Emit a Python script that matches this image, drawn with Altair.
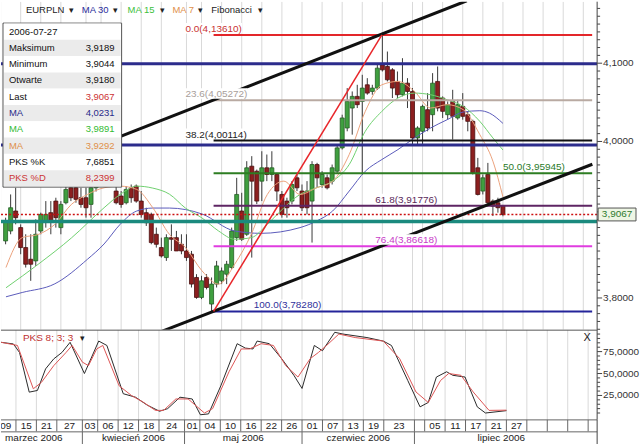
import altair as alt
import pandas as pd

FONT = "Liberation Sans, Arial, sans-serif"

W, H1, H2, H3 = 598, 329, 90, 25
X_DOMAIN = [1.0732, 117.76]
P_DOMAIN = [3.7595, 4.1786]
S_DOMAIN = [-2.27, 100.0]

# ---------------- candles (trading-day index, EURPLN) ----------------
bar_index = list(range(1, 101))
opens = [3.8729, 3.8856, 3.9111, 3.8899, 3.8644, 3.8495, 3.8474, 3.8856, 3.8983, 3.9090,
         3.9238, 3.8899, 3.9217, 3.9408, 3.9408, 3.9281, 3.9281, 3.9196, 3.9408, 3.9530,
         3.9490, 3.9550, 3.9366, 3.9302, 3.9217, 3.9408, 3.9429, 3.9238, 3.9090, 3.9068,
         3.8814, 3.8644, 3.8516, 3.8771, 3.8771, 3.8686, 3.8601, 3.8559, 3.8262, 3.8007,
         3.8262, 3.7922, 3.8177, 3.8219, 3.8304, 3.8389, 3.8771, 3.9111, 3.8814, 3.9684,
         3.9620, 3.9493, 3.9663, 3.9578, 3.9578, 3.9323, 3.9238, 3.9238, 3.9535, 3.9366,
         3.9366, 3.9238, 3.9705, 3.9450, 3.9535, 3.9493, 3.9620, 3.9918, 4.0172, 4.0427,
         4.0576, 4.0512, 4.0724, 4.0639, 4.0682, 4.0979, 4.0958, 4.0915, 4.0767, 4.0597,
         4.0745, 4.0639, 4.0045, 4.0130, 4.0406, 4.0342, 4.0767, 4.0555, 4.0342, 4.0512,
         4.0300, 4.0448, 4.0342, 4.0257, 3.9663, 3.9366, 3.9578, 3.9238, 3.9217, 3.9180]
highs = [3.9026, 3.9323, 3.9408, 3.8941, 3.8814, 3.8814, 3.9005, 3.9090, 3.9238, 3.9238,
         3.9281, 3.9238, 3.9429, 3.9450, 3.9493, 3.9408, 3.9408, 3.9430, 3.9580, 3.9620,
         3.9600, 3.9640, 3.9450, 3.9366, 3.9429, 3.9450, 3.9450, 3.9366, 3.9153, 3.9090,
         3.8899, 3.8771, 3.8814, 3.8941, 3.8857, 3.8814, 3.8814, 3.8601, 3.8304, 3.8283,
         3.8304, 3.8262, 3.8474, 3.8389, 3.8474, 3.8899, 3.9535, 3.9344, 3.9748, 3.9812,
         3.9641, 3.9875, 3.9833, 3.9875, 3.9599, 3.9366, 3.9281, 3.9493, 3.9578, 3.9450,
         3.9493, 3.9748, 3.9727, 3.9620, 3.9578, 3.9705, 3.9960, 4.0342, 4.0682, 4.0639,
         4.0724, 4.0852, 4.0809, 4.0724, 4.0979, 4.1361, 4.1149, 4.0937, 4.0894, 4.1064,
         4.0809, 4.0682, 4.0194, 4.0470, 4.0618, 4.0873, 4.0958, 4.0576, 4.0512, 4.0660,
         4.0533, 4.0618, 4.0385, 4.0278, 3.9790, 3.9578, 3.9726, 3.9260, 3.9281, 3.9189]
lows = [3.8686, 3.8814, 3.8941, 3.8559, 3.8389, 3.8219, 3.8410, 3.8814, 3.8899, 3.8814,
        3.8899, 3.8814, 3.9196, 3.9238, 3.9217, 3.9153, 3.9026, 3.9026, 3.9360, 3.9450,
        3.9420, 3.9470, 3.9196, 3.9153, 3.9196, 3.9217, 3.9217, 3.9026, 3.8920, 3.8686,
        3.8644, 3.8516, 3.8474, 3.8601, 3.8601, 3.8559, 3.8474, 3.8134, 3.7990, 3.7985,
        3.8110, 3.7828, 3.8134, 3.8177, 3.8177, 3.8367, 3.8729, 3.8729, 3.8793, 3.8516,
        3.9200, 3.9238, 3.9493, 3.9493, 3.9238, 3.9026, 3.9026, 3.9196, 3.9366, 3.9111,
        3.9068, 3.8708, 3.9408, 3.9408, 3.9387, 3.9450, 3.9599, 3.9897, 4.0130, 4.0087,
        4.0427, 3.9578, 4.0597, 4.0597, 4.0660, 4.0894, 4.0767, 4.0555, 4.0555, 4.0576,
        4.0427, 3.9960, 3.9960, 3.9960, 4.0130, 4.0130, 4.0385, 4.0300, 4.0278, 4.0024,
        4.0278, 4.0278, 4.0130, 3.9578, 3.9310, 3.9323, 3.9174, 3.9047, 3.9090, 3.9044]
closes = [3.8983, 3.9153, 3.9026, 3.8644, 3.8431, 3.8431, 3.8814, 3.9068, 3.9068, 3.8983,
          3.9026, 3.9196, 3.9387, 3.9281, 3.9260, 3.9196, 3.9153, 3.9408, 3.9530, 3.9490,
          3.9550, 3.9500, 3.9217, 3.9196, 3.9387, 3.9281, 3.9238, 3.9068, 3.8962, 3.8708,
          3.8686, 3.8537, 3.8771, 3.8750, 3.8601, 3.8601, 3.8516, 3.8177, 3.8007, 3.8219,
          3.8134, 3.8177, 3.8410, 3.8346, 3.8431, 3.8856, 3.9323, 3.8750, 3.9663, 3.9493,
          3.9238, 3.9663, 3.9578, 3.9663, 3.9366, 3.9068, 3.9153, 3.9450, 3.9408, 3.9153,
          3.9153, 3.9705, 3.9535, 3.9578, 3.9408, 3.9663, 3.9918, 4.0300, 4.0512, 4.0576,
          4.0470, 4.0682, 4.0618, 4.0682, 4.0937, 4.0915, 4.0788, 4.0682, 4.0597, 4.0745,
          4.0639, 4.0045, 4.0172, 4.0448, 4.0172, 4.0745, 4.0427, 4.0385, 4.0470, 4.0321,
          4.0470, 4.0321, 4.0257, 3.9599, 3.9323, 3.9535, 3.9217, 3.9174, 3.9153, 3.9067]

# ---------------- moving averages ----------------
ma30_i = [1.07, 4.3, 10.8, 17.3, 20.6, 23.8, 27.1, 30.3, 33.6, 40.1, 46.6, 51.8, 59.6, 62.9,
          66.1, 69.4, 72.6, 75.9, 79.1, 82.4, 85.6, 88.9, 92.1, 95.4, 97.3, 100]
ma30_v = [3.8015, 3.8070, 3.8181, 3.8495, 3.8690, 3.8941, 3.9111, 3.9149, 3.9149, 3.9073,
          3.8856, 3.8826, 3.8899, 3.8983, 3.9111, 3.9366, 3.9620, 3.9769, 3.9896, 4.0045,
          4.0172, 4.0278, 4.0376, 4.0393, 4.0363, 4.0231]
ma15_i = [1.07, 7.6, 14.1, 20.6, 23.8, 27.1, 30.3, 33.6, 36.8, 40.1, 43.4, 46.6, 49.9, 53.1,
          56.4, 59.6, 62.9, 66.1, 69.4, 72.6, 75.9, 79.1, 82.4, 85.6, 88.9, 92.1, 95.4, 98.0, 100]
ma15_v = [3.8130, 3.8436, 3.8767, 3.9153, 3.9323, 3.9429, 3.9404, 3.9327, 3.9149, 3.9022,
          3.8856, 3.8750, 3.8771, 3.8941, 3.9153, 3.9323, 3.9408, 3.9493, 3.9705, 4.0130,
          4.0385, 4.0555, 4.0618, 4.0597, 4.0533, 4.0448, 4.0257, 4.0045, 3.9891]
ma7_i = [1.07, 4.3, 7.6, 10.8, 14.1, 17.3, 20.6, 23.8, 27.1, 30.3, 33.6, 36.8, 40.1, 43.4,
         46.6, 49.9, 53.1, 56.4, 59.6, 62.9, 66.1, 69.4, 72.6, 75.9, 79.1, 82.4, 85.6, 88.9,
         92.1, 95.4, 98.0, 100]
ma7_v = [3.8389, 3.8771, 3.8814, 3.8941, 3.9196, 3.9323, 3.9408, 3.9429, 3.9387, 3.9153,
         3.8814, 3.8644, 3.8346, 3.8177, 3.8431, 3.8814, 3.9323, 3.9493, 3.9323, 3.9408,
         3.9493, 3.9833, 4.0385, 4.0724, 4.0767, 4.0639, 4.0427, 4.0470, 4.0406, 4.0087,
         3.9748, 3.9292]

# ---------------- stochastic PKS 8;3;3 ----------------
k_i = [1.1, 3.5, 4.7, 6.6, 8.2, 9.8, 11.4, 13.0, 14.6, 17.4, 20.2, 21.8, 25.0, 27.4, 29.7,
       32.1, 33.7, 36.1, 38.5, 40.1, 41.7, 44.1, 47.3, 48.9, 50.4, 51.2, 53.6, 56.0, 58.4,
       60.0, 62.4, 64.0, 66.4, 68.0, 72.7, 75.9, 77.5, 80.7, 83.1, 84.7, 86.3, 88.3, 89.5,
       91.9, 94.3, 95.9, 100]
k_v = [85.6, 83.7, 74.0, 28.8, 30.7, 55.3, 66.7, 74.0, 85.6, 50.0, 87.0, 82.0, 27.0, 23.0,
       14.0, 7.0, 10.0, 23.0, 21.0, 3.0, 4.0, 36.0, 84.0, 79.0, 78.0, 87.0, 84.0, 67.0, 48.0,
       33.0, 82.0, 76.0, 97.0, 95.0, 91.0, 87.0, 82.0, 42.0, 12.0, 17.0, 46.0, 52.0, 48.0,
       46.0, 12.0, 5.0, 7.6851]
d_i = [1.1, 4.3, 7.4, 9.0, 11.4, 13.8, 15.0, 17.0, 18.2, 19.8, 21.0, 24.2, 26.6, 29.0, 31.3,
       32.9, 35.3, 37.7, 40.9, 42.5, 45.7, 48.1, 49.7, 52.0, 54.4, 56.8, 59.2, 61.6, 63.2,
       64.8, 67.2, 70.4, 75.9, 79.1, 82.3, 84.7, 87.1, 88.7, 91.1, 93.5, 96.6, 100]
d_v = [85.6, 82.0, 32.6, 40.0, 59.0, 74.0, 82.0, 63.0, 59.0, 78.0, 82.0, 36.0, 25.0, 17.0,
       8.0, 8.0, 21.0, 21.0, 5.0, 10.0, 52.0, 78.0, 78.0, 84.0, 82.0, 59.0, 46.0, 67.0, 74.0,
       82.0, 95.0, 91.0, 87.0, 67.0, 29.0, 17.0, 42.0, 50.0, 48.0, 29.0, 8.0, 8.2399]

# ---------------- drawn studies ----------------
fib_pct = ["0.0", "23.6", "38.2", "50.0", "61.8", "76.4", "100.0"]
fib_level = [4.13610, 4.05272, 4.00114, 3.95945, 3.91776, 3.86618, 3.78280]
fib_label_i = [36.8, 36.8, 36.8, 100.0, 74.6, 74.6, 50.4]
fib_anchor_i = [42.4, 75.9]            # swing low -> swing high
fib_anchor_p = [3.78280, 4.13610]
hline_level = [4.0992, 3.9955, 3.8977]
channel_up_i, channel_up_p = [1.0, 92.8], [3.9490, 4.1798]
channel_lo_i, channel_lo_p = [32.0, 117.8], [3.7571, 3.9709]

# ---------------- axes ----------------
price_ticks = [3.8, 3.9, 4.0, 4.1]
price_labeled = [3.8, 4.0, 4.1]        # 3,9000 sits under the last-price tag
stoch_ticks = [25, 50, 75]
grid_idx = [0, 4, 8, 12, 17, 20, 24, 28, 32, 37, 40, 44, 48, 52, 56, 60, 64, 68, 72, 76,
            82, 84, 88, 92, 96, 100, 104, 108, 112, 116]
day_labels = ["09", "15", "21", "27", "03", "06", "12", "18", "24", "01", "04", "10", "16",
              "22", "26", "01", "07", "13", "19", "23", "", "05", "11", "17", "21", "27",
              "", "", "", ""]
month_names = ["marzec 2006", "kwiecień 2006", "maj 2006", "czerwiec 2006", "lipiec 2006"]
month_start = [-2, 17, 37, 60, 82]
month_end = [17, 37, 60, 82, 116]


def fmt4(v):
    return f"{v:.4f}".replace(".", ",")


xs = alt.Scale(domain=X_DOMAIN, nice=False, zero=False)
ps = alt.Scale(domain=P_DOMAIN, nice=False, zero=False)
ss = alt.Scale(domain=S_DOMAIN, nice=False, zero=False)
IDX_PER_PX = (X_DOMAIN[1] - X_DOMAIN[0]) / W
PRICE_PER_PX = (P_DOMAIN[1] - P_DOMAIN[0]) / H1


def XQ(f):
    return alt.X(f, type="quantitative", scale=xs, axis=None)


def PQ(f):
    return alt.Y(f, type="quantitative", scale=ps, axis=None)


def SQ(f):
    return alt.Y(f, type="quantitative", scale=ss, axis=None)


def PX(f):
    return alt.X(f, type="quantitative", scale=None, axis=None)


def PY(f):
    return alt.Y(f, type="quantitative", scale=None, axis=None)


def ident(f, ch=alt.Color):
    return ch(f, type="nominal", scale=None)


def text_width(s, size=10):
    w = {".": 0.278, ",": 0.278, "(": 0.333, ")": 0.333}
    return sum(w.get(ch, 0.556) for ch in s) * size


grid_df = pd.DataFrame({"g": grid_idx})
AXC = "#444444"

# ================= main price panel =================
grid1 = alt.Chart(grid_df).mark_rule(color="#d9d9d9", strokeWidth=1, clip=True).encode(x=XQ("g"))

cd = pd.DataFrame({"i": bar_index, "o": opens, "h": highs, "l": lows, "c": closes})
up = [c >= o for o, c in zip(opens, closes)]
cd["fc"] = ["#3f9f3f" if u else "#8c1f1f" for u in up]
cd["sc"] = ["#245e24" if u else "#4a1010" for u in up]
wicks = alt.Chart(cd).mark_rule(color="#3a3a3a", strokeWidth=1, clip=True).encode(
    x=XQ("i"), y=PQ("l"), y2="h:Q")
bodies = alt.Chart(cd).mark_bar(size=4, strokeWidth=0.8, clip=True).encode(
    x=XQ("i"), y=PQ("o"), y2="c:Q", fill=ident("fc:N", alt.Fill), stroke=ident("sc:N", alt.Stroke))

ma_df = pd.concat([
    pd.DataFrame({"i": ma30_i, "v": ma30_v, "ma": "MA30", "col": "#5b5bbb"}),
    pd.DataFrame({"i": ma15_i, "v": ma15_v, "ma": "MA15", "col": "#6fd06f"}),
    pd.DataFrame({"i": ma7_i, "v": ma7_v, "ma": "MA7", "col": "#eba27c"}),
])
mas = alt.Chart(ma_df).mark_line(strokeWidth=1, interpolate="monotone", clip=True).encode(
    x=XQ("i"), y=PQ("v"), detail="ma:N", color=ident("col:N"))

hl_df = pd.DataFrame({"level": hline_level, "col": ["#2c2c8c", "#2c2c8c", "#1b8a7e"], "w": [3, 3, 3.5]})
hlines = alt.Chart(hl_df).mark_rule(clip=True).encode(
    y=PQ("level"), color=ident("col:N"), strokeWidth=alt.StrokeWidth("w:Q", scale=None))

fib_lab = [f"{p}(" + f"{lv:.5f}".replace(".", ",") + ")" for p, lv in zip(fib_pct, fib_level)]
fib_df = pd.DataFrame({
    "level": fib_level,
    "x0": [fib_anchor_i[0]] * len(fib_level),
    "x1": [X_DOMAIN[1]] * len(fib_level),
    "lx": fib_label_i,
    "lab": fib_lab,
    "col": ["#e3262a", "#b9aaa2", "#111111", "#2d7d22", "#5e2563", "#e03ce0", "#24249a"],
    "lcol": ["#c83232", "#a89e9a", "#222222", "#2a7a2a", "#5a2a5a", "#c83cc8", "#30309a"],
})
# white plate behind every level label (labels hide the lines they sit on)
fib_df["bx0"] = fib_df["lx"] - 1 * IDX_PER_PX
fib_df["bx1"] = fib_df["lx"] + [(text_width(s) + 1) * IDX_PER_PX for s in fib_lab]
fib_df["by0"] = fib_df["level"] + 1.5 * PRICE_PER_PX
fib_df["by1"] = fib_df["level"] + 12 * PRICE_PER_PX

fib_lines = alt.Chart(fib_df).mark_rule(strokeWidth=2, clip=True).encode(
    x=XQ("x0"), x2="x1:Q", y=PQ("level"), color=ident("col:N"))
fib_plate = alt.Chart(fib_df).mark_rect(fill="#ffffff", clip=True).encode(
    x=XQ("bx0"), x2="bx1:Q", y=PQ("by0"), y2="by1:Q")
fib_text = alt.Chart(fib_df).mark_text(align="left", baseline="bottom", dy=-1, fontSize=10, font=FONT).encode(
    x=XQ("lx"), y=PQ("level"), text="lab:N", color=ident("lcol:N"))

chan_df = pd.DataFrame({"line": ["up", "up", "lo", "lo"],
                        "i": channel_up_i + channel_lo_i, "p": channel_up_p + channel_lo_p})
channels = alt.Chart(chan_df).mark_line(color="#111111", strokeWidth=3, clip=True).encode(
    x=XQ("i"), y=PQ("p"), detail="line:N")
diag_df = pd.DataFrame({"i": fib_anchor_i, "p": fib_anchor_p})
diag = alt.Chart(diag_df).mark_line(color="#e8262a", strokeWidth=1.5, clip=True).encode(x=XQ("i"), y=PQ("p"))

last_df = pd.DataFrame({"p": [closes[-1]], "t": [fmt4(closes[-1])]})
last_rule = alt.Chart(last_df).mark_rule(color="#cc1111", strokeDash=[2, 2], strokeWidth=1.5).encode(y=PQ("p"))

# right price axis (drawn by hand so that labels use a decimal comma)
axis1 = alt.Chart(pd.DataFrame({"z": [0]})).mark_rule(color=AXC).encode(
    x=alt.value(W), y=alt.value(0), y2=alt.value(H1))
minor_p = [round(3.76 + 0.01 * k, 2) for k in range(42)]
minor_p = [v for v in minor_p if P_DOMAIN[0] <= v <= P_DOMAIN[1] and v not in price_ticks]
minor1 = alt.Chart(pd.DataFrame({"p": minor_p})).mark_rule(color=AXC).encode(
    y=PQ("p"), x=alt.value(W), x2=alt.value(W + 3))
major1 = alt.Chart(pd.DataFrame({"p": price_ticks})).mark_rule(color=AXC).encode(
    y=PQ("p"), x=alt.value(W), x2=alt.value(W + 5))
pl_df = pd.DataFrame({"p": price_labeled, "t": [fmt4(v) for v in price_labeled]})
labels1 = alt.Chart(pl_df).mark_text(align="left", baseline="middle", fontSize=10, font=FONT,
                                     color="#333333").encode(x=alt.value(W + 6), y=PQ("p"), text="t:N")

price_box = alt.Chart(last_df).mark_point(
    shape="M-1,-0.34L1,-0.34L1,0.34L-1,0.34Z", size=1444, filled=True, fill="#eef6e4",
    stroke="#555555", strokeWidth=1, opacity=1).encode(x=alt.value(618), y=PQ("p"))
price_txt = alt.Chart(last_df).mark_text(fontSize=10, font=FONT, color="#2f7a2f").encode(
    x=alt.value(618), y=PQ("p"), text="t:N")

# info box
box_labels = ["2006-07-27", "Maksimum", "Minimum", "Otwarte", "Last", "MA", "MA", "MA", "PKS %K", "PKS %D"]
box_values = ["", fmt4(highs[-1]), fmt4(lows[-1]), fmt4(opens[-1]), fmt4(closes[-1]),
              fmt4(ma30_v[-1]), fmt4(ma15_v[-1]), fmt4(ma7_v[-1]), fmt4(k_v[-1]), fmt4(d_v[-1])]
lab_cols = ["#111", "#111", "#111", "#111", "#111", "#2a2a8a", "#33bb33", "#e0904a", "#111", "#cc3333"]
val_cols = ["#111", "#111", "#111", "#111", "#cc3333", "#2a2a8a", "#33bb33", "#e0904a", "#111", "#cc3333"]
rows = pd.DataFrame({"k": range(10), "lab": box_labels, "val": box_values, "lc": lab_cols, "vc": val_cols})
rows["yc"] = 30 + 16.35 * rows["k"]
rows["y0"] = rows["yc"] - 8.1
rows["y1"] = rows["yc"] + 8.1
rows["shade"] = ["#ffffff" if k % 2 == 0 else "#ebebeb" for k in rows["k"]]

box_bg = alt.Chart(rows.iloc[:1]).mark_rect(fill="#ffffff", stroke="#555555", strokeWidth=1).encode(
    x=alt.value(2), x2=alt.value(121), y=alt.value(21.5), y2=alt.value(186))
box_rows = alt.Chart(rows).mark_rect().encode(
    x=alt.value(3), x2=alt.value(120), y=PY("y0"), y2="y1:Q", fill=ident("shade:N", alt.Fill))
box_lab = alt.Chart(rows).mark_text(align="left", fontSize=9.5, font=FONT).encode(
    x=alt.value(8), y=PY("yc"), text="lab:N", color=ident("lc:N"))
box_val = alt.Chart(rows).mark_text(align="right", fontSize=9.5, font=FONT).encode(
    x=alt.value(114), y=PY("yc"), text="val:N", color=ident("vc:N"))

tb = pd.DataFrame({
    "t": ["EURPLN", "▾", "MA 30", "▾", "MA 15", "▾", "MA 7", "▾", "Fibonacci", "▾"],
    "x": [25, 71, 81, 115, 127, 162, 172, 200, 211, 260],
    "a": ["left", "center", "left", "center", "left", "center", "left", "center", "left", "center"],
    "c": ["#222", "#222", "#2a2a9a", "#222", "#3cbf3c", "#222", "#e0904a", "#222", "#222", "#222"],
})
toolbar_l = alt.Chart(tb[tb.a == "left"]).mark_text(align="left", fontSize=9.5, font=FONT).encode(
    x=PX("x"), y=alt.value(8), text="t:N", color=ident("c:N"))
toolbar_c = alt.Chart(tb[tb.a == "center"]).mark_text(align="center", fontSize=9, font=FONT).encode(
    x=PX("x"), y=alt.value(8), text="t:N", color=ident("c:N"))

p1 = alt.layer(grid1, wicks, bodies, mas, hlines, last_rule, fib_lines, channels, diag, fib_plate, fib_text,
               axis1, minor1, major1, labels1, price_box, price_txt,
               box_bg, box_rows, box_lab, box_val, toolbar_l, toolbar_c
               ).properties(width=W, height=H1)

# ================= stochastic panel =================
grid2 = alt.Chart(grid_df).mark_rule(color="#d9d9d9", strokeWidth=1, clip=True).encode(x=XQ("g"))
st_df = pd.concat([pd.DataFrame({"i": k_i, "v": k_v, "s": "K", "col": "#2a2a2a"}),
                   pd.DataFrame({"i": d_i, "v": d_v, "s": "D", "col": "#dd5555"})])
stoch = alt.Chart(st_df).mark_line(strokeWidth=1, clip=True).encode(
    x=XQ("i"), y=SQ("v"), detail="s:N", color=ident("col:N"))
axis2 = alt.Chart(pd.DataFrame({"z": [0]})).mark_rule(color=AXC).encode(
    x=alt.value(W), y=alt.value(0), y2=alt.value(H2))
minor_s = [v for v in range(5, 100, 5) if v not in stoch_ticks]
minor2 = alt.Chart(pd.DataFrame({"v": minor_s})).mark_rule(color=AXC).encode(
    y=SQ("v"), x=alt.value(W), x2=alt.value(W + 3))
st_t = pd.DataFrame({"v": stoch_ticks, "t": [fmt4(v) for v in stoch_ticks]})
major2 = alt.Chart(st_t).mark_rule(color=AXC).encode(y=SQ("v"), x=alt.value(W), x2=alt.value(W + 5))
labels2 = alt.Chart(st_t).mark_text(align="left", baseline="middle", fontSize=10, font=FONT,
                                    color="#333333").encode(x=alt.value(W + 6), y=SQ("v"), text="t:N")
top2 = alt.Chart(pd.DataFrame({"z": [0]})).mark_rule(color="#555555", strokeWidth=1).encode(
    x=alt.value(0), x2=alt.value(W), y=alt.value(0.5))
ttl2 = alt.Chart(pd.DataFrame({"t": ["PKS 8; 3; 3"]})).mark_text(
    align="left", fontSize=10, font=FONT, color="#c03030").encode(x=alt.value(22), y=alt.value(8), text="t:N")
arr2 = alt.Chart(pd.DataFrame({"t": ["▾"]})).mark_text(
    align="center", fontSize=9, font=FONT, color="#222").encode(x=alt.value(82), y=alt.value(8), text="t:N")
close2 = alt.Chart(pd.DataFrame({"t": ["X"]})).mark_text(
    align="center", fontSize=11, font=FONT, color="#222").encode(x=alt.value(588), y=alt.value(8), text="t:N")
p2 = alt.layer(grid2, stoch, axis2, minor2, major2, labels2, top2, ttl2, arr2, close2
               ).properties(width=W, height=H2)

# ================= date table =================
ends = grid_idx[1:] + [X_DOMAIN[1]]
day_df = pd.DataFrame({"c": [(a + b) / 2 for a, b in zip(grid_idx, ends)], "lab": day_labels})
day_df = day_df[day_df.lab != ""]
mon_df = pd.DataFrame({"c": [(a + b) / 2 for a, b in zip(month_start, month_end)], "lab": month_names})
mon_sep = pd.DataFrame({"g": month_start[1:]})

day_seps = alt.Chart(grid_df).mark_rule(color="#666666", strokeWidth=1, clip=True).encode(
    x=XQ("g"), y=alt.value(0), y2=alt.value(12))
mon_seps = alt.Chart(mon_sep).mark_rule(color="#666666", strokeWidth=1, clip=True).encode(
    x=XQ("g"), y=alt.value(12), y2=alt.value(H3))
hrules = alt.Chart(pd.DataFrame({"y": [0.5, 12.5]})).mark_rule(color="#666666", strokeWidth=1).encode(
    x=alt.value(0), x2=alt.value(W), y=PY("y"))
rborder = alt.Chart(pd.DataFrame({"z": [0]})).mark_rule(color=AXC, strokeWidth=1).encode(
    x=alt.value(W), y=alt.value(0), y2=alt.value(H3))
day_txt = alt.Chart(day_df).mark_text(fontSize=10, font=FONT, color="#222222", clip=True).encode(
    x=XQ("c"), y=alt.value(6.5), text="lab:N")
mon_txt = alt.Chart(mon_df).mark_text(fontSize=10, font=FONT, color="#222222", clip=True).encode(
    x=XQ("c"), y=alt.value(19), text="lab:N")
p3 = alt.layer(day_seps, mon_seps, hrules, rborder, day_txt, mon_txt).properties(width=W, height=H3)

chart = alt.vconcat(p1, p2, p3, spacing=0, bounds="flush").properties(
    padding={"left": 0, "top": 0, "right": 0, "bottom": 0}, background="white"
).configure_view(stroke=None)

chart.save("out.html", embed_options={"renderer": "svg", "actions": False})
